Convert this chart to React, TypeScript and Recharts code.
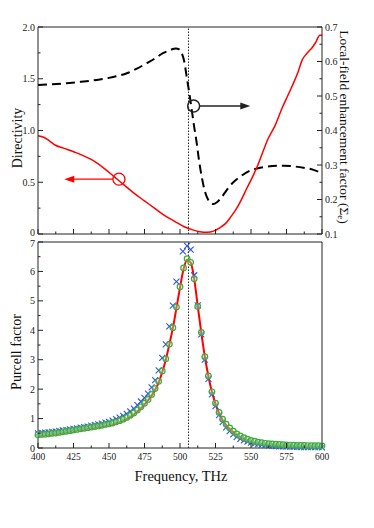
import {
  ComposedChart,
  Line,
  Scatter,
  XAxis,
  YAxis,
  ReferenceLine,
  ReferenceDot,
} from "recharts";

// ---- top panel: directivity (left axis) and local-field factor (right axis)
const dirFreq = [
  400, 404, 408, 412, 418, 426, 433, 440, 447, 454, 461, 468, 475, 482, 489,
  496.5, 503, 509, 514, 519, 524, 528, 532, 536, 540, 543.5, 547, 551, 554,
  558, 562, 567, 572, 576, 579, 583, 586, 589, 591, 593, 595.5, 598.5, 600,
];
const dirValues = [
  0.95, 0.935, 0.9, 0.86, 0.83, 0.79, 0.75, 0.7, 0.63, 0.55, 0.47, 0.39, 0.32,
  0.25, 0.18, 0.12, 0.07, 0.04, 0.022, 0.016, 0.03, 0.06, 0.1, 0.17, 0.25,
  0.34, 0.44, 0.55, 0.64, 0.78, 0.92, 1.05, 1.22, 1.34, 1.43, 1.56, 1.68, 1.74,
  1.77, 1.8, 1.85, 1.92, 1.92,
];
const fieldFreq = [
  400, 410, 420, 430, 443.5, 455, 462.5, 470, 476.5, 482, 488, 493, 497, 499.5,
  501.2, 503, 504.7, 506.5, 508.3, 510, 511.8, 513.5, 515.3, 517, 518.8, 521,
  523.5, 526, 529, 533, 537, 542.3, 549, 556.4, 565, 573, 580, 587, 594, 600,
];
const fieldValues = [
  0.532, 0.534, 0.537, 0.541, 0.548, 0.557, 0.566, 0.58, 0.595, 0.608, 0.624,
  0.633, 0.638, 0.635, 0.624, 0.6, 0.556, 0.51, 0.459, 0.41, 0.363, 0.31,
  0.266, 0.232, 0.208, 0.193, 0.187, 0.192, 0.205, 0.228, 0.248, 0.266, 0.283,
  0.292, 0.297, 0.298, 0.296, 0.292, 0.286, 0.276,
];

// ---- bottom panel: Purcell factor
const purcellFreq = [
  400, 402.5, 405, 407.5, 410, 412.5, 415, 417.5, 420, 422.5, 425, 427.5, 430,
  432.5, 435, 437.5, 440, 442.5, 445, 447.5, 450, 452.5, 455, 457.5, 460,
  462.5, 465, 467.5, 470, 472.5, 475, 477.5, 480, 482.5, 485, 487.5, 490,
  492.5, 495, 497.5, 500, 502.5, 505, 507.5, 510, 512.5, 515, 517.5, 520,
  522.5, 525, 527.5, 530, 532.5, 535, 537.5, 540, 542.5, 545, 547.5, 550,
  552.5, 555, 557.5, 560, 562.5, 565, 567.5, 570, 572.5, 575, 577.5, 580,
  582.5, 585, 587.5, 590, 592.5, 595, 597.5, 600,
];
const fitValues = [
  0.41, 0.42, 0.43, 0.44, 0.46, 0.47, 0.49, 0.51, 0.53, 0.55, 0.57, 0.59, 0.61,
  0.63, 0.65, 0.67, 0.69, 0.71, 0.73, 0.75, 0.77, 0.8, 0.84, 0.88, 0.93, 0.99,
  1.06, 1.14, 1.24, 1.35, 1.48, 1.62, 1.78, 1.98, 2.22, 2.58, 3.0, 3.52, 4.08,
  4.76, 5.45, 6.08, 6.4, 6.3, 5.75, 4.82, 3.92, 3.1, 2.44, 1.9, 1.5, 1.18,
  0.95, 0.78, 0.65, 0.54, 0.45, 0.38, 0.32, 0.27, 0.22, 0.19, 0.16, 0.14,
  0.12, 0.11, 0.1, 0.09, 0.08, 0.075, 0.07, 0.065, 0.06, 0.057, 0.055, 0.052,
  0.05, 0.048, 0.047, 0.046, 0.045,
];
const circleValues = [
  0.45, 0.46, 0.47, 0.48, 0.5, 0.51, 0.53, 0.55, 0.57, 0.59, 0.61, 0.63, 0.65,
  0.67, 0.69, 0.71, 0.73, 0.75, 0.77, 0.8, 0.82, 0.85, 0.89, 0.93, 0.98, 1.04,
  1.11, 1.19, 1.29, 1.4, 1.52, 1.65, 1.82, 2.02, 2.27, 2.62, 3.03, 3.53, 4.09,
  4.79, 5.48, 6.12, 6.43, 6.31, 5.75, 4.81, 3.93, 3.1, 2.45, 1.91, 1.52, 1.21,
  0.98, 0.81, 0.68, 0.57, 0.48, 0.41, 0.35, 0.3, 0.26, 0.23, 0.2, 0.18, 0.16,
  0.15, 0.14, 0.13, 0.12, 0.11, 0.105, 0.1, 0.095, 0.09, 0.088, 0.085, 0.083,
  0.08, 0.078, 0.076, 0.075,
];
const crossFreq = [
  400, 402.5, 405, 407.5, 410, 412.5, 415, 417.5, 420, 422.5, 425, 427.5, 430,
  432.5, 435, 437.5, 440, 442.5, 445, 447.5, 450, 452.5, 455, 457.5, 460,
  462.5, 465, 467.5, 470, 472.5, 475, 477.5, 480, 482.5, 485, 487.5, 490,
  492.5, 495, 497.5, 502, 505, 507.5, 510, 512.5, 515, 517.5, 520, 522.5, 525,
  527.5, 530, 532.5, 535, 537.5, 540, 542.5, 545, 547.5, 550, 552.5, 555,
  557.5, 560, 562.5, 565, 567.5, 570, 572.5, 575, 577.5, 580, 582.5, 585,
  587.5, 590, 592.5, 595, 597.5, 600,
];
const crossValues = [
  0.5, 0.51, 0.52, 0.53, 0.55, 0.56, 0.58, 0.6, 0.61, 0.63, 0.65, 0.67, 0.69,
  0.71, 0.73, 0.76, 0.78, 0.8, 0.83, 0.86, 0.89, 0.93, 0.98, 1.03, 1.09, 1.16,
  1.24, 1.34, 1.46, 1.58, 1.7, 1.85, 2.06, 2.31, 2.64, 3.06, 3.52, 4.13, 4.84,
  5.65, 6.68, 6.87, 6.74, 5.87, 4.85, 3.86, 3.0, 2.35, 1.82, 1.42, 1.12, 0.88,
  0.7, 0.57, 0.46, 0.38, 0.31, 0.26, 0.22, 0.18, 0.15, 0.13, 0.11, 0.095,
  0.085, 0.075, 0.065, 0.058, 0.052, 0.047, 0.043, 0.04, 0.037, 0.034, 0.032,
  0.03, 0.028, 0.027, 0.026, 0.025,
];

const resonance = 506;
const redMarker = { f: 457, v: 0.53, tip: 418.5 };
const blackMarker = { f: 509.6, v: 0.471, tip: 549.5 };

// ---- ticks
const freqTicks = [
  400, 412.5, 425, 437.5, 450, 462.5, 475, 487.5, 500, 512.5, 525, 537.5, 550,
  562.5, 575, 587.5, 600,
];
const dirTicks = [0, 0.25, 0.5, 0.75, 1, 1.25, 1.5, 1.75, 2];
const fieldTicks = [
  0.1, 0.15, 0.2, 0.25, 0.3, 0.35, 0.4, 0.45, 0.5, 0.55, 0.6, 0.65, 0.7,
];
const purcellTicks = [0, 0.5, 1, 1.5, 2, 2.5, 3, 3.5, 4, 4.5, 5, 5.5, 6, 6.5, 7];

const dirData = dirFreq.map((f, i) => ({ f, v: dirValues[i] }));
const fieldData = fieldFreq.map((f, i) => ({ f, v: fieldValues[i] }));
const fitData = purcellFreq.map((f, i) => ({ f, v: fitValues[i] }));
const circleData = purcellFreq.map((f, i) => ({ f, v: circleValues[i] }));
const crossData = crossFreq.map((f, i) => ({ f, v: crossValues[i] }));

const serif = "'Liberation Serif', 'Times New Roman', 'DejaVu Serif', serif";
const ink = "#222";
const PL = 38;
const PR = 322;
// plot edges inside each svg
const T1 = 27;
const B1 = 234;
const T2 = 4;
const B2 = 210;

type TickProps = {
  x?: number;
  y?: number;
  payload?: { value: number };
  side: "left" | "right" | "top" | "bottom";
  edge: number;
  step: number;
  fmt?: (v: number) => string;
  nudge?: (v: number) => number;
};

function AxisTick({ x = 0, y = 0, payload, side, edge, step, fmt, nudge }: TickProps) {
  const v = payload ? Number(payload.value) : 0;
  const r = v / step;
  const major = Math.abs(r - Math.round(r)) < 1e-6;
  const len = major ? 5 : 2.5;
  const dy = nudge ? nudge(v) : 0;
  if (side === "left" || side === "right") {
    const dir = side === "left" ? 1 : -1;
    return (
      <g>
        <line x1={edge} x2={edge + dir * len} y1={y} y2={y} stroke={ink} />
        {fmt && major && (
          <text
            x={edge - dir * 3}
            y={y + dy}
            textAnchor={side === "left" ? "end" : "start"}
            dominantBaseline="central"
            fontSize={10}
            style={{ fontFamily: serif }}
            fill={ink}
          >
            {fmt(v)}
          </text>
        )}
      </g>
    );
  }
  const dir = side === "bottom" ? -1 : 1;
  return (
    <g>
      <line x1={x} x2={x} y1={edge} y2={edge + dir * len} stroke={ink} />
      {fmt && major && (
        <text
          x={x}
          y={edge + 9}
          textAnchor="middle"
          dominantBaseline="central"
          fontSize={9.5}
          style={{ fontFamily: serif }}
          fill={ink}
        >
          {fmt(v)}
        </text>
      )}
    </g>
  );
}

const fixed1 = (v: number) => (v === 0 ? "0" : v.toFixed(1));
const plain = (v: number) => String(v);
const liftZero = (v: number) => (v === 0 ? -2 : 0);
const dropTop = (v: number) => (v === 7 ? 1.5 : 0);

const arrowLeft = (color: string) => (p: { cx?: number; cy?: number }) => (
  <path
    d={`M${p.cx},${p.cy} l10,-3.5 l0,7 z`}
    fill={color}
    stroke="none"
  />
);
const arrowRight = (color: string) => (p: { cx?: number; cy?: number }) => (
  <path
    d={`M${p.cx},${p.cy} l-10,-3.5 l0,7 z`}
    fill={color}
    stroke="none"
  />
);

const crossShape = (p: { cx?: number; cy?: number }) => {
  const cx = p.cx ?? 0;
  const cy = p.cy ?? 0;
  const s = 3;
  return (
    <path
      d={`M${cx - s},${cy - s}L${cx + s},${cy + s}M${cx - s},${cy + s}L${cx + s},${cy - s}`}
      stroke="#2f55e0"
      strokeWidth={1.1}
      fill="none"
    />
  );
};

const ringShape = (p: { cx?: number; cy?: number }) => (
  <circle
    cx={p.cx}
    cy={p.cy}
    r={2.8}
    fill="#c8ebc0"
    fillOpacity={0.4}
    stroke="#3aac3a"
    strokeWidth={1.2}
  />
);

function TopPanel() {
  return (
    <ComposedChart
      width={374}
      height={240}
      margin={{ top: 0, right: 0, bottom: 0, left: 0 }}
    >
      <XAxis
        dataKey="f"
        type="number"
        domain={[400, 600]}
        ticks={freqTicks}
        interval={0}
        height={6}
        tickLine={false}
        axisLine={{ stroke: ink }}
        tick={<AxisTick side="bottom" edge={B1} step={25} />}
      />
      <XAxis
        xAxisId="top"
        orientation="top"
        dataKey="f"
        type="number"
        domain={[400, 600]}
        ticks={freqTicks}
        interval={0}
        height={T1}
        tickLine={false}
        axisLine={{ stroke: ink }}
        tick={<AxisTick side="top" edge={T1} step={25} />}
      />
      <YAxis
        yAxisId="d"
        type="number"
        domain={[0, 2]}
        ticks={dirTicks}
        interval={0}
        width={PL}
        tickLine={false}
        axisLine={{ stroke: ink }}
        tick={
          <AxisTick side="left" edge={PL} step={0.5} fmt={fixed1} nudge={liftZero} />
        }
      />
      <YAxis
        yAxisId="s"
        orientation="right"
        type="number"
        domain={[0.1, 0.7]}
        ticks={fieldTicks}
        interval={0}
        width={374 - PR}
        tickLine={false}
        axisLine={{ stroke: ink }}
        tick={<AxisTick side="right" edge={PR} step={0.1} fmt={fixed1} />}
      />
      <ReferenceLine
        yAxisId="d"
        x={resonance}
        stroke={ink}
        strokeDasharray="1.5 1.5"
      />
      <Line
        yAxisId="s"
        data={fieldData}
        dataKey="v"
        type="monotone"
        stroke="#000"
        strokeWidth={2}
        strokeDasharray="9 5"
        dot={false}
        isAnimationActive={false}
      />
      <Line
        yAxisId="d"
        data={dirData}
        dataKey="v"
        type="monotone"
        stroke="#ff0000"
        strokeWidth={1.5}
        dot={false}
        isAnimationActive={false}
      />
      <ReferenceDot
        yAxisId="d"
        x={redMarker.f}
        y={redMarker.v}
        r={6}
        fill="none"
        stroke="#ff0000"
        strokeWidth={1.3}
      />
      <ReferenceLine
        yAxisId="d"
        segment={[
          { x: redMarker.f - 4.2, y: redMarker.v },
          { x: redMarker.tip + 5, y: redMarker.v },
        ]}
        stroke="#ff0000"
        strokeWidth={1.3}
      />
      <ReferenceDot
        yAxisId="d"
        x={redMarker.tip}
        y={redMarker.v}
        shape={arrowLeft("#ff0000")}
      />
      <ReferenceDot
        yAxisId="s"
        x={blackMarker.f}
        y={blackMarker.v}
        r={6}
        fill="none"
        stroke={ink}
        strokeWidth={1.5}
      />
      <ReferenceLine
        yAxisId="s"
        segment={[
          { x: blackMarker.f + 4.2, y: blackMarker.v },
          { x: blackMarker.tip - 5, y: blackMarker.v },
        ]}
        stroke={ink}
        strokeWidth={1.5}
      />
      <ReferenceDot
        yAxisId="s"
        x={blackMarker.tip}
        y={blackMarker.v}
        shape={arrowRight(ink)}
      />
    </ComposedChart>
  );
}

function BottomPanel() {
  return (
    <ComposedChart
      width={374}
      height={290}
      margin={{ top: 0, right: 0, bottom: 0, left: 0 }}
    >
      <XAxis
        dataKey="f"
        type="number"
        domain={[400, 600]}
        ticks={freqTicks}
        interval={0}
        height={290 - B2}
        tickLine={false}
        axisLine={{ stroke: ink }}
        tick={<AxisTick side="bottom" edge={B2} step={25} fmt={plain} />}
      />
      <XAxis
        xAxisId="top"
        orientation="top"
        dataKey="f"
        type="number"
        domain={[400, 600]}
        ticks={freqTicks}
        interval={0}
        height={T2}
        tickLine={false}
        axisLine={{ stroke: ink }}
        tick={<AxisTick side="top" edge={T2} step={25} />}
      />
      <YAxis
        yAxisId="l"
        type="number"
        domain={[0, 7]}
        ticks={purcellTicks}
        interval={0}
        width={PL}
        tickLine={false}
        axisLine={{ stroke: ink }}
        tick={
          <AxisTick side="left" edge={PL} step={1} fmt={plain} nudge={dropTop} />
        }
      />
      <YAxis
        yAxisId="r"
        orientation="right"
        type="number"
        domain={[0, 7]}
        ticks={purcellTicks}
        interval={0}
        width={374 - PR}
        tickLine={false}
        axisLine={{ stroke: ink }}
        tick={<AxisTick side="right" edge={PR} step={1} />}
      />
      <ReferenceLine
        yAxisId="l"
        x={resonance}
        stroke={ink}
        strokeDasharray="1.5 1.5"
      />
      <Scatter
        yAxisId="l"
        data={crossData}
        dataKey="v"
        shape={crossShape}
        isAnimationActive={false}
      />
      <Scatter
        yAxisId="l"
        data={circleData}
        dataKey="v"
        shape={ringShape}
        isAnimationActive={false}
      />
      <Line
        yAxisId="l"
        data={fitData}
        dataKey="v"
        type="monotone"
        stroke="#ff0000"
        strokeWidth={2}
        dot={false}
        isAnimationActive={false}
      />
    </ComposedChart>
  );
}

export default function App() {
  return (
    <div
      style={{
        position: "absolute",
        left: 0,
        top: 0,
        width: 374,
        height: 528,
        background: "#fff",
        fontFamily: serif,
      }}
    >
      <div style={{ position: "absolute", left: 0, top: 0 }}>
        <TopPanel />
      </div>
      <div style={{ position: "absolute", left: 0, top: 238 }}>
        <BottomPanel />
      </div>
      <svg
        width={374}
        height={528}
        style={{
          position: "absolute",
          left: 0,
          top: 0,
          pointerEvents: "none",
          fontFamily: serif,
        }}
        fill="#111"
      >
        <text
          transform="translate(17,138) rotate(-90)"
          textAnchor="middle"
          dominantBaseline="central"
          fontSize={14}
        >
          Directivity
        </text>
        <text
          transform="translate(344,127) rotate(90)"
          textAnchor="middle"
          dominantBaseline="central"
          fontSize={13.5}
        >
          Local-field enhancement factor (Σ
          <tspan fontSize={9} dy={3}>
            e
          </tspan>
          <tspan dy={-3}>)</tspan>
        </text>
        <text
          transform="translate(16,352) rotate(-90)"
          textAnchor="middle"
          dominantBaseline="central"
          fontSize={14}
        >
          Purcell factor
        </text>
        <text
          x={181}
          y={476}
          textAnchor="middle"
          dominantBaseline="central"
          fontSize={14.5}
        >
          Frequency, THz
        </text>
      </svg>
    </div>
  );
}
